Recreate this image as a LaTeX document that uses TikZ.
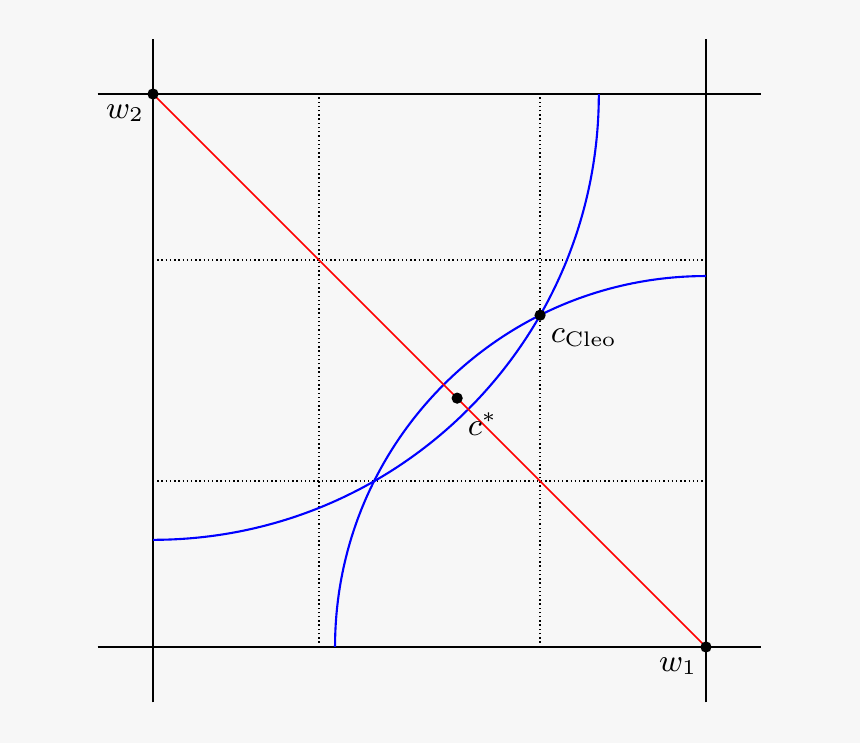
\documentclass[tikz,border=0pt]{standalone}
\usetikzlibrary{positioning}

\begin{document}
\begin{tikzpicture}[x=5.53cm, y=5.53cm, font=\small,
  axis/.style={black, line width=0.5pt},
  guide/.style={black, dash pattern=on 0.4pt off 0.8pt, line width=0.4pt},
  budget/.style={red, line width=0.5pt},
  indiff/.style={blue, line width=0.6pt},
  dot/.style={circle, fill=black, inner sep=0pt, minimum size=3.2pt}]

  % background, fixes the margins
  \fill[black!3] (-0.2767,-0.1736) rectangle (1.2785,1.1700);

  \coordinate (w1) at (1,0);
  \coordinate (w2) at (0,1);
  \coordinate (cstar) at (0.55,0.45);
  \coordinate (ccleo) at (0.7,0.6);

  \foreach \t in {0.3,0.7} {
    \draw[guide] (\t,0) -- (\t,1);
    \draw[guide] (0,\t) -- (1,\t);
  }

  \draw[axis] (-0.1,0) -- (1.1,0);
  \draw[axis] (-0.1,1) -- (1.1,1);
  \draw[axis] (0,-0.1) -- (0,1.1);
  \draw[axis] (1,-0.1) -- (1,1.1);

  \draw[indiff] (w1) ++(180:{sqrt(0.45)}) arc[start angle=180, end angle=90, radius={sqrt(0.45)}];
  \draw[indiff] (w2) ++(270:{sqrt(0.65)}) arc[start angle=270, end angle=360, radius={sqrt(0.65)}];

  \draw[budget] (w2) -- (w1);

  \node[dot] (w1dot) at (w1) {};
  \node[dot] (w2dot) at (w2) {};
  \node[dot] (cstardot) at (cstar) {};
  \node[dot] (ccleodot) at (ccleo) {};

  \node[below left=-0.5pt and -1pt of w1] (w1label) {$w_1$};
  \node[below left=-0.5pt and -1pt of w2] (w2label) {$w_2$};
  \node[below right=0.5pt and -0.5pt of cstar] (cstarlabel) {$c^*$};
  \node[below right=0.5pt and -0.5pt of ccleo] (ccleolabel) {$c_{\mathrm{Cleo}}$};
\end{tikzpicture}
\end{document}
